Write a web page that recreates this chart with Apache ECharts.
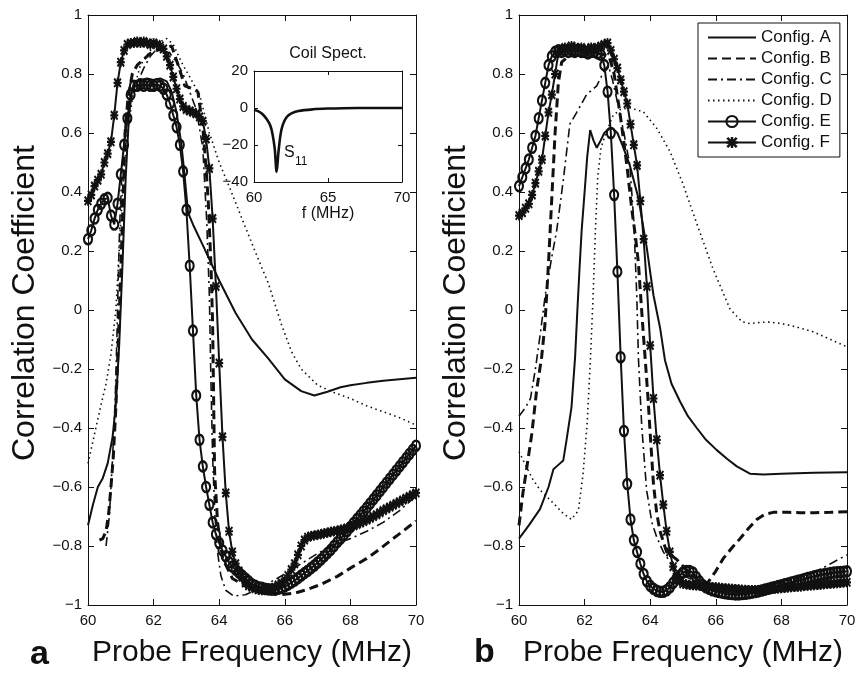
<!DOCTYPE html>
<html>
<head>
<meta charset="utf-8">
<title>Correlation coefficient vs probe frequency</title>
<script src="https://cdn.jsdelivr.net/npm/echarts@6.0.0/dist/echarts.min.js"></script>
<style>
  html, body { margin: 0; padding: 0; background: #fff; }
  #chart { width: 866px; height: 673px; }
</style>
</head>
<body>
<div id="chart"></div>
<script>
// sampling grid of the marker curves (Config. E / F), 0.1 MHz steps
const freqGrid = [];
for (let i = 0; i <= 100; i++) freqGrid.push(+(60 + i / 10).toFixed(1));

const configNames = ['Config. A', 'Config. B', 'Config. C', 'Config. D', 'Config. E', 'Config. F'];

// ---- panel a : [MHz, r] ----
const aConfigA = [[60,-0.73],[60.15,-0.66],[60.3,-0.6],[60.45,-0.57],[60.6,-0.52],[60.75,-0.43],[60.85,-0.32],[60.95,-0.12],
  [61.05,0.15],[61.15,0.45],[61.25,0.66],[61.35,0.75],[61.45,0.775],[61.6,0.78],[61.8,0.785],[62.0,0.78],[62.2,0.785],
  [62.4,0.775],[62.55,0.74],[62.7,0.67],[62.85,0.56],[62.95,0.45],[63.05,0.33],[63.2,0.29],[63.5,0.22],[64.0,0.1],
  [64.5,-0.01],[65.0,-0.1],[65.5,-0.165],[66.0,-0.235],[66.5,-0.275],[66.9,-0.29],[67.3,-0.277],[67.7,-0.262],
  [68.0,-0.255],[68.5,-0.247],[69.0,-0.24],[69.5,-0.235],[70,-0.23]];
const aConfigB = [[60.35,-0.78],[60.45,-0.775],[60.55,-0.75],[60.63,-0.69],[60.7,-0.6],[60.77,-0.5],[60.85,-0.33],
  [60.92,-0.12],[60.98,0.07],[61.05,0.3],[61.13,0.6],[61.22,0.72],[61.35,0.8],[61.5,0.83],[61.7,0.85],[61.9,0.87],
  [62.1,0.88],[62.3,0.885],[62.55,0.895],[62.75,0.83],[62.95,0.76],[63.2,0.75],[63.35,0.74],[63.5,0.62],[63.6,0.48],
  [63.67,0.36],[63.75,0.15],[63.8,-0.05],[63.83,-0.3],[63.86,-0.55],[63.95,-0.72],[64.1,-0.84],[64.4,-0.91],
  [64.8,-0.935],[65.3,-0.955],[65.85,-0.965],[66.3,-0.96],[66.7,-0.947],[67.1,-0.93],[67.6,-0.903],[68.0,-0.875],
  [68.5,-0.842],[68.9,-0.81],[69.3,-0.775],[69.6,-0.75],[70,-0.715]];
const aConfigC = [[60.55,-0.8],[60.65,-0.7],[60.75,-0.5],[60.83,-0.3],[60.88,-0.1],[60.92,0.1],[60.97,0.3],[61.05,0.5],
  [61.15,0.65],[61.3,0.73],[61.5,0.77],[61.7,0.82],[61.9,0.86],[62.1,0.885],[62.3,0.88],[62.5,0.87],[62.7,0.84],
  [62.9,0.8],[63.1,0.74],[63.3,0.68],[63.5,0.55],[63.62,0.3],[63.7,0.05],[63.75,-0.25],[63.8,-0.5],[63.87,-0.7],
  [63.95,-0.82],[64.05,-0.9],[64.2,-0.95],[64.45,-0.97],[64.8,-0.965],[65.2,-0.945],[65.6,-0.92],[66.0,-0.895],
  [66.5,-0.86],[67.0,-0.825],[67.5,-0.795],[68.0,-0.775],[68.5,-0.75],[69.0,-0.72],[69.5,-0.68],[70,-0.63]];
const aConfigD = [[60,-0.52],[60.2,-0.42],[60.4,-0.32],[60.55,-0.25],[60.7,-0.15],[60.85,0.0],[60.95,0.2],[61.05,0.4],
  [61.2,0.6],[61.4,0.75],[61.6,0.83],[61.9,0.88],[62.2,0.91],[62.4,0.92],[62.6,0.9],[62.85,0.84],[63.1,0.79],
  [63.4,0.73],[63.7,0.6],[64.0,0.5],[64.3,0.42],[64.8,0.28],[65.2,0.17],[65.5,0.09],[65.9,-0.05],[66.2,-0.14],
  [66.5,-0.2],[67.0,-0.255],[67.5,-0.28],[68.0,-0.3],[68.5,-0.325],[69.0,-0.345],[69.5,-0.365],[70,-0.39]];
const aConfigE = [0.24, 0.27, 0.31, 0.34, 0.36, 0.375, 0.38, 0.32, 0.29, 0.36,
  0.46, 0.56, 0.65, 0.73, 0.76, 0.76, 0.765, 0.76, 0.765, 0.76,
  0.76, 0.765, 0.76, 0.75, 0.73, 0.70, 0.66, 0.62, 0.56, 0.47,
  0.34, 0.15, -0.07, -0.29, -0.44, -0.53, -0.60, -0.66, -0.72, -0.76,
  -0.79, -0.815, -0.835, -0.855, -0.87, -0.88, -0.89, -0.90, -0.91, -0.92,
  -0.93, -0.935, -0.94, -0.942, -0.945, -0.947, -0.948, -0.948, -0.945, -0.942,
  -0.937, -0.931, -0.924, -0.917, -0.909, -0.90, -0.892, -0.884, -0.875, -0.866,
  -0.856, -0.846, -0.835, -0.824, -0.813, -0.80, -0.787, -0.775, -0.762, -0.749,
  -0.736, -0.722, -0.709, -0.696, -0.683, -0.67, -0.656, -0.642, -0.628, -0.614,
  -0.60, -0.586, -0.572, -0.558, -0.544, -0.53, -0.516, -0.502, -0.488, -0.474,
  -0.46];
const aConfigF = [0.37, 0.39, 0.42, 0.44, 0.46, 0.50, 0.53, 0.57, 0.66, 0.77,
  0.84, 0.88, 0.90, 0.905, 0.905, 0.91, 0.905, 0.91, 0.905, 0.90,
  0.905, 0.90, 0.895, 0.885, 0.86, 0.83, 0.79, 0.75, 0.715, 0.69,
  0.68, 0.675, 0.67, 0.665, 0.655, 0.64, 0.58, 0.48, 0.31, 0.08,
  -0.18, -0.43, -0.62, -0.75, -0.82, -0.86, -0.885, -0.905, -0.925, -0.935,
  -0.94, -0.945, -0.948, -0.95, -0.95, -0.948, -0.945, -0.94, -0.932, -0.925,
  -0.915, -0.90, -0.88, -0.86, -0.83, -0.80, -0.78, -0.77, -0.766, -0.764,
  -0.762, -0.76, -0.757, -0.755, -0.752, -0.75, -0.748, -0.745, -0.742, -0.739,
  -0.735, -0.731, -0.727, -0.722, -0.717, -0.712, -0.706, -0.70, -0.694, -0.687,
  -0.68, -0.674, -0.668, -0.662, -0.656, -0.65, -0.644, -0.638, -0.632, -0.626,
  -0.62];

// ---- panel b ----
const bConfigA = [[60,-0.775],[60.3,-0.73],[60.64,-0.675],[60.9,-0.6],[61.05,-0.54],[61.2,-0.525],[61.35,-0.51],
  [61.45,-0.44],[61.6,-0.33],[61.71,-0.16],[61.78,0.0],[61.85,0.15],[61.91,0.27],[62.0,0.4],[62.08,0.52],[62.17,0.61],
  [62.27,0.575],[62.37,0.55],[62.47,0.57],[62.6,0.6],[62.75,0.615],[62.85,0.616],[63.0,0.6],[63.15,0.56],[63.38,0.49],
  [63.64,0.38],[63.89,0.215],[64.1,0.05],[64.3,-0.06],[64.45,-0.17],[64.65,-0.25],[64.91,-0.31],[65.15,-0.36],
  [65.42,-0.4],[65.7,-0.44],[66.03,-0.475],[66.35,-0.505],[66.64,-0.53],[67.04,-0.555],[67.45,-0.558],[68.0,-0.555],
  [68.47,-0.553],[69.0,-0.552],[69.5,-0.551],[70,-0.55]];
const bConfigB = [[60,-0.73],[60.12,-0.62],[60.23,-0.54],[60.39,-0.42],[60.54,-0.27],[60.69,-0.16],[60.79,-0.05],
  [60.9,0.16],[61.0,0.38],[61.1,0.6],[61.2,0.77],[61.3,0.84],[61.5,0.86],[61.8,0.865],[62.1,0.87],[62.4,0.87],
  [62.6,0.865],[62.75,0.86],[62.9,0.8],[63.1,0.65],[63.3,0.48],[63.44,0.34],[63.55,0.25],[63.64,0.16],[63.72,0.03],
  [63.79,-0.08],[63.87,-0.2],[63.94,-0.31],[64.0,-0.42],[64.1,-0.59],[64.2,-0.69],[64.3,-0.75],[64.5,-0.82],
  [64.8,-0.845],[65.1,-0.88],[65.5,-0.92],[65.75,-0.925],[66.0,-0.885],[66.23,-0.842],[66.5,-0.805],[66.74,-0.775],
  [67.0,-0.74],[67.25,-0.71],[67.5,-0.692],[67.75,-0.686],[68.2,-0.686],[68.57,-0.687],[69.0,-0.687],[69.5,-0.686],
  [70,-0.684]];
const bConfigC = [[60,-0.36],[60.2,-0.33],[60.35,-0.3],[60.5,-0.2],[60.65,-0.08],[60.8,0.05],[61.0,0.18],[61.15,0.27],
  [61.35,0.44],[61.55,0.63],[61.76,0.67],[62.06,0.73],[62.37,0.76],[62.57,0.805],[62.72,0.83],[62.85,0.78],
  [63.03,0.69],[63.2,0.6],[63.38,0.49],[63.5,0.3],[63.59,0.05],[63.64,-0.16],[63.74,-0.39],[63.89,-0.61],
  [64.05,-0.72],[64.2,-0.77],[64.4,-0.82],[64.7,-0.87],[65.0,-0.9],[65.5,-0.925],[66.0,-0.935],[66.5,-0.94],
  [67.0,-0.94],[67.5,-0.935],[68.0,-0.925],[68.5,-0.91],[69.0,-0.89],[69.5,-0.86],[70,-0.83]];
const bConfigD = [[60,-0.48],[60.13,-0.51],[60.4,-0.57],[60.64,-0.61],[61.05,-0.655],[61.35,-0.69],[61.6,-0.71],
  [61.81,-0.68],[61.95,-0.56],[62.08,-0.38],[62.18,-0.16],[62.26,0.05],[62.33,0.27],[62.4,0.45],[62.5,0.55],
  [62.65,0.6],[62.87,0.66],[63.1,0.68],[63.38,0.685],[63.79,0.672],[64.2,0.616],[64.6,0.538],[65.0,0.427],
  [65.42,0.293],[65.92,0.138],[66.43,0.004],[66.8,-0.04],[67.04,-0.046],[67.35,-0.042],[67.65,-0.041],[68.0,-0.046],
  [68.26,-0.052],[68.6,-0.062],[68.97,-0.074],[69.5,-0.1],[70,-0.125]];
const bConfigE = [0.42, 0.45, 0.48, 0.51, 0.55, 0.59, 0.65, 0.71, 0.77, 0.83,
  0.86, 0.875, 0.88, 0.875, 0.88, 0.875, 0.88, 0.875, 0.88, 0.875,
  0.875, 0.87, 0.875, 0.875, 0.87, 0.865, 0.83, 0.74, 0.60, 0.39,
  0.13, -0.16, -0.41, -0.59, -0.71, -0.78, -0.82, -0.86, -0.895, -0.92,
  -0.935, -0.945, -0.952, -0.955, -0.955, -0.95, -0.94, -0.925, -0.91, -0.90,
  -0.89, -0.885, -0.885, -0.89, -0.905, -0.92, -0.932, -0.94, -0.945, -0.95,
  -0.953, -0.956, -0.958, -0.96, -0.962, -0.963, -0.964, -0.964, -0.963, -0.962,
  -0.96, -0.958, -0.956, -0.954, -0.951, -0.948, -0.945, -0.942, -0.939, -0.936,
  -0.933, -0.93, -0.927, -0.924, -0.921, -0.918, -0.915, -0.912, -0.909, -0.906,
  -0.903, -0.90, -0.898, -0.896, -0.894, -0.892, -0.89, -0.889, -0.888, -0.887,
  -0.886];
const bConfigF = [0.32, 0.33, 0.345, 0.36, 0.39, 0.43, 0.47, 0.51, 0.59, 0.67,
  0.73, 0.80, 0.87, 0.885, 0.89, 0.885, 0.895, 0.89, 0.885, 0.89,
  0.88, 0.885, 0.89, 0.885, 0.89, 0.895, 0.90, 0.905, 0.88, 0.85,
  0.82, 0.78, 0.74, 0.70, 0.63, 0.56, 0.49, 0.37, 0.24, 0.08,
  -0.12, -0.30, -0.44, -0.56, -0.66, -0.75, -0.82, -0.87, -0.905, -0.92,
  -0.928, -0.93, -0.932, -0.933, -0.934, -0.935, -0.936, -0.937, -0.938, -0.939,
  -0.94, -0.941, -0.942, -0.943, -0.944, -0.945, -0.946, -0.947, -0.948, -0.948,
  -0.949, -0.949, -0.949, -0.949, -0.948, -0.948, -0.947, -0.946, -0.945, -0.944,
  -0.943, -0.942, -0.941, -0.94, -0.939, -0.938, -0.937, -0.936, -0.935, -0.934,
  -0.933, -0.932, -0.931, -0.93, -0.929, -0.928, -0.927, -0.926, -0.925, -0.924,
  -0.923];

// ---- inset: coil S11 (dB) ----
const s11Curve = [[60,-1.1],[60.3,-1.8],[60.6,-3.5],[60.9,-6.5],[61.1,-9.5],[61.25,-14],[61.4,-22],[61.53,-34.5],
  [61.65,-24],[61.8,-14],[61.95,-9],[62.2,-5],[62.5,-3],[63,-1.6],[64,-0.7],[65,-0.3],[66,-0.1],[68,0],[70,0]];

const FONT = 'Liberation Sans, Arial, Helvetica, sans-serif';
const INK = '#111';
// chunky asterisk like MATLAB's '*' marker
const asterisk = 'path://M3.9 0L6.1 0L6.1 10L3.9 10Z M0 3.9L10 3.9L10 6.1L0 6.1Z ' +
  'M1.6 0L10 8.4L8.4 10L0 1.6Z M8.4 0L10 1.6L1.6 10L0 8.4Z';

const fmt = v => (Math.abs(v) < 1e-9 ? '0' : String(+v.toFixed(1))).replace('-', '\u2212');

function frameAxes(gi, xr, yr, opts) {
  const tick = { show: true, inside: true, length: opts.tick, lineStyle: { color: INK, width: 1 } };
  const line = { show: true, onZero: false, lineStyle: { color: INK, width: 1 } };
  const lab = { show: true, color: INK, fontFamily: FONT, fontSize: 15, formatter: fmt };
  const xs = [
    Object.assign({ type: 'value', gridIndex: gi, position: 'bottom', min: xr[0], max: xr[1], interval: xr[2],
      axisLine: line, axisTick: tick, splitLine: { show: false }, axisLabel: Object.assign({}, lab, { margin: 8 }) },
      opts.xName ? { name: opts.xName, nameLocation: 'middle', nameGap: opts.xGap,
        nameTextStyle: { color: INK, fontFamily: FONT, fontSize: opts.xNameSize } } : {}),
    { type: 'value', gridIndex: gi, position: 'top', min: xr[0], max: xr[1], interval: xr[2],
      axisLine: line, axisTick: tick, splitLine: { show: false }, axisLabel: { show: false } }
  ];
  const ys = [
    Object.assign({ type: 'value', gridIndex: gi, position: 'left', min: yr[0], max: yr[1], interval: yr[2],
      axisLine: line, axisTick: tick, splitLine: { show: false }, axisLabel: Object.assign({}, lab, { margin: 6 }) },
      opts.yName ? { name: opts.yName, nameLocation: 'middle', nameGap: opts.yGap,
        nameTextStyle: { color: INK, fontFamily: FONT, fontSize: opts.yNameSize, padding: [0, 0, 0, 14] } } : {}),
    { type: 'value', gridIndex: gi, position: 'right', min: yr[0], max: yr[1], interval: yr[2],
      axisLine: line, axisTick: tick, splitLine: { show: false }, axisLabel: { show: false } }
  ];
  return { xs, ys };
}

const styles = {
  'Config. A': { lineStyle: { color: INK, width: 2, type: 'solid' } },
  'Config. B': { lineStyle: { color: INK, width: 3, type: [9, 5] } },
  'Config. C': { lineStyle: { color: INK, width: 1.6, type: [9, 4, 2, 4] } },
  'Config. D': { lineStyle: { color: INK, width: 1.6, type: [1.5, 3.5] } },
  'Config. E': { lineStyle: { color: INK, width: 2 }, symbol: 'circle', symbolSize: [8, 10],
    itemStyle: { color: 'rgba(255,255,255,0)', borderColor: INK, borderWidth: 2.3 } },
  'Config. F': { lineStyle: { color: INK, width: 2 }, symbol: asterisk, symbolSize: [8, 10],
    itemStyle: { color: INK } }
};

function curve(name, data, axisIdx) {
  const st = styles[name];
  return Object.assign({
    type: 'line', name, data, xAxisIndex: axisIdx, yAxisIndex: axisIdx,
    symbol: 'none', showSymbol: !!st.symbol, showAllSymbol: true, smooth: false,
    itemStyle: { color: INK },
    silent: true, animation: false, clip: true, emphasis: { disabled: true }
  }, st);
}

const onGrid = vals => freqGrid.map((f, i) => [f, vals[i]]);

const panelA = [aConfigA, aConfigB, aConfigC, aConfigD, onGrid(aConfigE), onGrid(aConfigF)];
const panelB = [bConfigA, bConfigB, bConfigC, bConfigD, onGrid(bConfigE), onGrid(bConfigF)];

const mainOpts = { tick: 6, xNameSize: 30, yNameSize: 32, xName: 'Probe Frequency (MHz)', xGap: 33,
  yName: 'Correlation Coefficient', yGap: 47 };
const axA = frameAxes(0, [60, 70, 2], [-1, 1, 0.2], mainOpts);
const axB = frameAxes(1, [60, 70, 2], [-1, 1, 0.2], mainOpts);
const axI = frameAxes(2, [60, 70, 5], [-40, 20, 20], { tick: 4, xNameSize: 16, xName: 'f (MHz)', xGap: 22 });

const series = [];
panelA.forEach((d, i) => series.push(curve(configNames[i], d, 0)));
panelB.forEach((d, i) => series.push(curve(configNames[i], d, 2)));
series.push({ type: 'line', name: 'S11', data: s11Curve, xAxisIndex: 4, yAxisIndex: 4, symbol: 'none',
  smooth: 0.3, silent: true, animation: false, lineStyle: { color: INK, width: 2.6 } });

// legend: plain line samples for A-D, line + marker for E/F
const legendData = configNames.map(n => styles[n].symbol ? { name: n } : { name: n, itemStyle: { opacity: 0 } });

const chart = echarts.init(document.getElementById('chart'), null, { renderer: 'canvas' });
chart.setOption({
  animation: false,
  backgroundColor: '#fff',
  textStyle: { fontFamily: FONT },
  grid: [
    { left: 88, top: 15, width: 328, height: 599 },
    { left: 519, top: 15, width: 328, height: 599 },
    { left: 254, top: 71, width: 148, height: 111, show: true, backgroundColor: '#fff', borderWidth: 0 }
  ],
  xAxis: [...axA.xs, ...axB.xs, ...axI.xs],
  yAxis: [...axA.ys, ...axB.ys, ...axI.ys],
  legend: {
    data: legendData, orient: 'vertical', left: 698, top: 23,
    padding: [6, 8, 6, 9], itemWidth: 48, itemHeight: 14, itemGap: 4,
    backgroundColor: '#fff', borderColor: INK, borderWidth: 1, borderRadius: 0,
    selectedMode: false,
    textStyle: { color: INK, fontFamily: FONT, fontSize: 17, lineHeight: 17 }
  },
  graphic: [
    { type: 'text', left: 30, top: 638, style: { text: 'a', font: 'bold 34px ' + FONT, fill: INK } },
    { type: 'text', left: 474, top: 636, style: { text: 'b', font: 'bold 34px ' + FONT, fill: INK } },
    { type: 'text', x: 328, y: 46, style: { text: 'Coil Spect.', font: '16px ' + FONT, fill: INK, textAlign: 'center' } },
    { type: 'text', x: 284, y: 145, style: { text: 'S', font: '16px ' + FONT, fill: INK } },
    { type: 'text', x: 295, y: 156, style: { text: '11', font: '12px ' + FONT, fill: INK } }
  ],
  series
});
</script>
</body>
</html>
